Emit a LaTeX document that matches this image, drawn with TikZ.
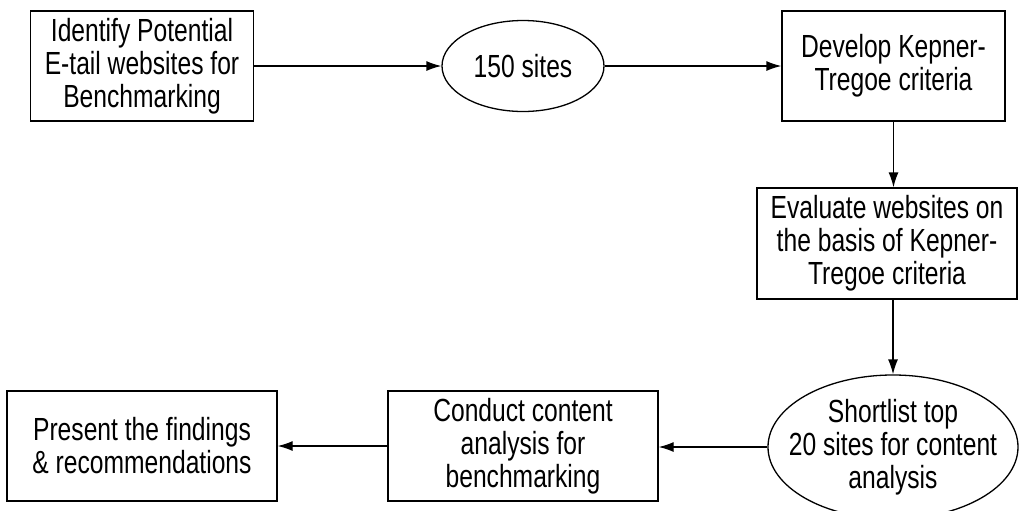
\documentclass[tikz,border=0pt]{standalone}
\usepackage{fontspec}
\setmainfont{Liberation Sans}[FakeStretch=0.77]
\usetikzlibrary{arrows.meta,shapes.geometric}

\begin{document}
\begin{tikzpicture}[x=0.5pt,y=-0.5pt,
	stepbox/.style={draw,line width=0.65pt,align=center,inner sep=0pt,minimum height=55pt,font=\fontsize{16}{16.5}\selectfont},
	oval/.style={draw,ellipse,line width=0.65pt,align=center,inner ysep=0pt,inner xsep=-8pt,font=\fontsize{16}{16.5}\selectfont},
	flow/.style={-{Latex[length=7.5pt,width=5pt]},line width=0.65pt}]
	\useasboundingbox (0,0) rectangle (1019,510);
	% top row
	\node [stepbox,minimum width=111.5pt] (identify) at (142,66) {Identify Potential\\E-tail websites for\\Benchmarking};
	\node [oval,minimum width=81pt,minimum height=45.5pt] (sites) at (523,66) {150 sites};
	\node [stepbox,minimum width=111.5pt] (develop) at (893.5,66) {Develop Kepner-\\Tregoe criteria};
	% right column
	\node [stepbox,minimum width=130pt,minimum height=55.5pt] (evaluate) at (887,243.5) {Evaluate websites on\\the basis of Kepner-\\Tregoe criteria};
	\node [oval,minimum width=125pt,minimum height=72pt] (shortlist) at (893,447) {Shortlist top\\20 sites for content\\analysis};
	% bottom row
	\node [stepbox,minimum width=135pt] (conduct) at (523,446) {Conduct content\\analysis for\\benchmarking};
	\node [stepbox,minimum width=135pt] (present) at (142,446) {Present the findings\\\& recommendations};
	\draw [flow] (identify) -- (sites);
	\draw [flow] (sites) -- (develop);
	\draw [flow] (develop.south) -- (develop.south |- evaluate.north);
	\draw [flow] (shortlist.north |- evaluate.south) -- (shortlist.north);
	\draw [flow] (shortlist.west) -- (shortlist.west -| conduct.east);
	\draw [flow] (conduct.west) -- (conduct.west -| present.east);
\end{tikzpicture}
\end{document}
